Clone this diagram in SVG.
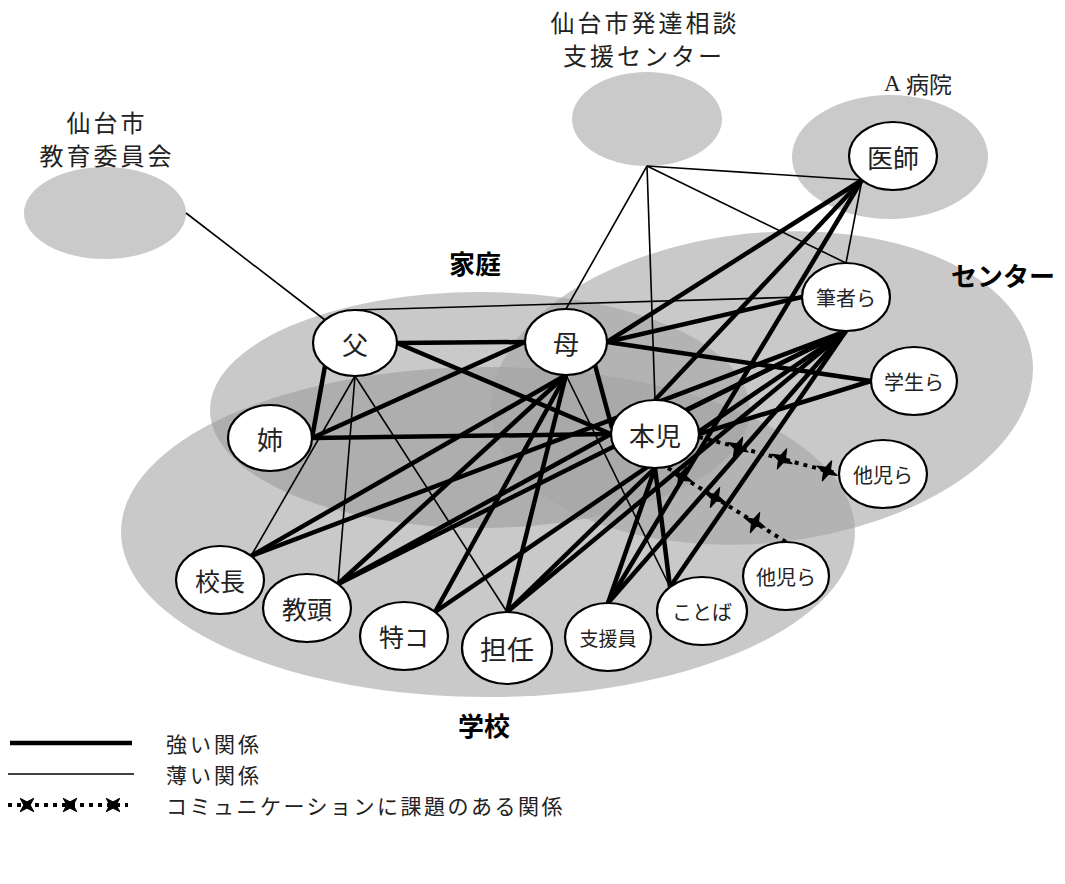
<svg xmlns="http://www.w3.org/2000/svg" width="1065" height="884" viewBox="0 0 1065 884">
  <style>
    .jp { font-family: "Noto Sans CJK JP", "Noto Sans", sans-serif; fill: #222; }
    .wide { letter-spacing: 3px; }
    .bold { font-family: "Noto Sans CJK JP", "Noto Sans", sans-serif; font-weight: 700; fill: #000; }
    .org { fill: #cacaca; }
    .home, .school { fill: #939393; fill-opacity: 0.5; }
    .center { fill: #a5a5a5; fill-opacity: 0.6; }
    .node ellipse { fill: #fff; stroke: #000; stroke-width: 2.2; }
    .thick { stroke: #000; stroke-width: 4.5; fill: none; }
    .thin { stroke: #000; stroke-width: 1.6; fill: none; }
    .dot { stroke: #000; stroke-width: 4; stroke-dasharray: 4 5; fill: none; }
  </style>
  <defs>
    <!-- four-pointed cross used on the problem links -->
    <path id="star" d="M0,-11 L2.6,-2.6 L11,0 L2.6,2.6 L0,11 L-2.6,2.6 L-11,0 L-2.6,-2.6 Z" fill="#000" stroke="#000" stroke-width="1.2" stroke-linejoin="round"/>
  </defs>
  <rect width="1065" height="884" fill="#fff"/>

  <!-- outside organisations -->
  <g id="kyoiku">
    <ellipse class="org" cx="105" cy="213" rx="81" ry="46"/>
    <text class="jp wide" x="107" y="121" font-size="24" text-anchor="middle" dominant-baseline="central">仙台市</text>
    <text class="jp wide" x="107" y="154" font-size="24" text-anchor="middle" dominant-baseline="central">教育委員会</text>
  </g>
  <g id="hattatsu">
    <ellipse class="org" cx="647" cy="119" rx="75" ry="47"/>
    <text class="jp wide" x="645" y="21" font-size="24" text-anchor="middle" dominant-baseline="central">仙台市発達相談</text>
    <text class="jp wide" x="644" y="54" font-size="24" text-anchor="middle" dominant-baseline="central">支援センター</text>
  </g>
  <g id="byoin">
    <ellipse class="org" cx="890" cy="157" rx="98" ry="62"/>
    <text class="jp" x="918" y="83" font-size="23" text-anchor="middle" dominant-baseline="central"><tspan font-family="Liberation Serif, serif">A</tspan> 病院</text>
  </g>

  <!-- group areas -->
  <g id="areas">
    <ellipse class="school" cx="488" cy="532" rx="367" ry="165"/>
    <ellipse class="home" cx="480" cy="410" rx="270" ry="118"/>
    <ellipse class="center" cx="762" cy="388" rx="272" ry="155" transform="rotate(-6 762 388)"/>
    <text class="bold" x="475" y="262" font-size="26" text-anchor="middle" dominant-baseline="central">家庭</text>
    <text class="bold" x="1003" y="274" font-size="26" text-anchor="middle" dominant-baseline="central">センター</text>
    <text class="bold" x="484" y="724" font-size="26" text-anchor="middle" dominant-baseline="central">学校</text>
  </g>

  <!-- connectors -->
  <g id="connectors">
    <path class="thin" d="M186,213 L325,320"/>
    <path class="thin" d="M647,166 L566,309"/>
    <path class="thin" d="M647,166 L655,400"/>
    <path class="thin" d="M647,166 L862,180"/>
    <path class="thin" d="M647,166 L846,263"/>
    <path class="thin" d="M862,180 L846,263"/>
    <path class="thin" d="M355,310 L802,297"/>
    <path class="thin" d="M355,376 L251,556"/>
    <path class="thin" d="M355,376 L338,584"/>
    <path class="thin" d="M355,376 L507,612"/>
    <path class="thin" d="M566,375 L670,587"/>

    <path class="thick" d="M397,343 L525,342"/>
    <path class="thick" d="M397,343 L611,434"/>
    <path class="thick" d="M325,366 L312,438"/>
    <path class="thick" d="M312,438 L611,434"/>
    <path class="thick" d="M312,438 L525,342"/>
    <path class="thick" d="M595,365 L612,428"/>
    <path class="thick" d="M607,342 L802,297"/>
    <path class="thick" d="M607,342 L862,180"/>
    <path class="thick" d="M607,342 L871,381"/>
    <path class="thick" d="M566,375 L251,556"/>
    <path class="thick" d="M566,375 L338,584"/>
    <path class="thick" d="M566,375 L435,612"/>
    <path class="thick" d="M566,375 L507,612"/>
    <path class="thick" d="M862,180 L655,400"/>
    <path class="thick" d="M862,180 L608,603"/>
    <path class="thick" d="M846,331 L251,556"/>
    <path class="thick" d="M846,331 L338,584"/>
    <path class="thick" d="M846,331 L435,612"/>
    <path class="thick" d="M846,331 L507,612"/>
    <path class="thick" d="M846,331 L608,603"/>
    <path class="thick" d="M846,331 L670,587"/>
    <path class="thick" d="M846,331 L686,410"/>
    <path class="thick" d="M699,434 L871,381"/>
    <path class="thick" d="M611,434 L338,584"/>
    <path class="thick" d="M655,468 L507,612"/>
    <path class="thick" d="M655,468 L608,603"/>
    <path class="thick" d="M655,468 L670,587"/>

    <path class="dot" d="M699,437 L839,474"/>
    <use href="#star" transform="translate(738,447.3) rotate(25)"/>
    <use href="#star" transform="translate(782,458.9) rotate(25)"/>
    <use href="#star" transform="translate(827,470.8) rotate(25)"/>
    <path class="dot" d="M668,468 L786,542"/>
    <use href="#star" transform="translate(682,476.8) rotate(25)"/>
    <use href="#star" transform="translate(715,497.5) rotate(25)"/>
    <use href="#star" transform="translate(755,522.6) rotate(25)"/>
  </g>

  <!-- people -->
  <g id="chichi" class="node"><ellipse cx="355" cy="343" rx="42" ry="33"/><text class="jp" x="355" y="343" font-size="26" text-anchor="middle" dominant-baseline="central">父</text></g>
  <g id="haha" class="node"><ellipse cx="566" cy="342" rx="41" ry="33"/><text class="jp" x="566" y="342" font-size="26" text-anchor="middle" dominant-baseline="central">母</text></g>
  <g id="ane" class="node"><ellipse cx="270" cy="438" rx="42" ry="33"/><text class="jp" x="270" y="438" font-size="26" text-anchor="middle" dominant-baseline="central">姉</text></g>
  <g id="honji" class="node"><ellipse cx="655" cy="434" rx="44" ry="34"/><text class="jp" x="655" y="434" font-size="26" text-anchor="middle" dominant-baseline="central">本児</text></g>
  <g id="ishi" class="node"><ellipse cx="893" cy="156" rx="44" ry="34"/><text class="jp" x="893" y="156" font-size="26" text-anchor="middle" dominant-baseline="central">医師</text></g>
  <g id="hissha" class="node"><ellipse cx="846" cy="297" rx="44" ry="34"/><text class="jp" x="846" y="297" font-size="20" text-anchor="middle" dominant-baseline="central">筆者ら</text></g>
  <g id="gakusei" class="node"><ellipse cx="914" cy="381" rx="43" ry="34"/><text class="jp" x="914" y="381" font-size="20" text-anchor="middle" dominant-baseline="central">学生ら</text></g>
  <g id="taji1" class="node"><ellipse cx="883" cy="474" rx="44" ry="34"/><text class="jp" x="883" y="474" font-size="20" text-anchor="middle" dominant-baseline="central">他児ら</text></g>
  <g id="taji2" class="node"><ellipse cx="786" cy="576" rx="43" ry="34"/><text class="jp" x="786" y="576" font-size="20" text-anchor="middle" dominant-baseline="central">他児ら</text></g>
  <g id="kocho" class="node"><ellipse cx="220" cy="580" rx="44" ry="34"/><text class="jp" x="220" y="580" font-size="25" text-anchor="middle" dominant-baseline="central">校長</text></g>
  <g id="kyoto" class="node"><ellipse cx="307" cy="608" rx="44" ry="34"/><text class="jp" x="307" y="608" font-size="25" text-anchor="middle" dominant-baseline="central">教頭</text></g>
  <g id="tokuko" class="node"><ellipse cx="404" cy="636" rx="44" ry="34"/><text class="jp" x="404" y="636" font-size="25" text-anchor="middle" dominant-baseline="central">特コ</text></g>
  <g id="tannin" class="node"><ellipse cx="507" cy="648" rx="45" ry="36"/><text class="jp" x="507" y="648" font-size="27" text-anchor="middle" dominant-baseline="central">担任</text></g>
  <g id="shienin" class="node"><ellipse cx="608" cy="637" rx="43" ry="34"/><text class="jp" x="608" y="637" font-size="19" text-anchor="middle" dominant-baseline="central">支援員</text></g>
  <g id="kotoba" class="node"><ellipse cx="702" cy="611" rx="45" ry="34"/><text class="jp" x="702" y="611" font-size="20" text-anchor="middle" dominant-baseline="central">ことば</text></g>

  <!-- legend -->
  <g id="legend">
    <path class="thick" d="M10,743 L132,743" stroke-width="5"/>
    <text class="jp" x="166" y="743" font-size="21" letter-spacing="3" dominant-baseline="central">強い関係</text>
    <path class="thin" d="M8,774 L134,774" stroke-width="2"/>
    <text class="jp" x="166" y="774" font-size="21" letter-spacing="3" dominant-baseline="central">薄い関係</text>
    <path class="dot" d="M8,805 L128,805"/>
    <use href="#star" transform="translate(27,805) rotate(45) scale(0.85)"/>
    <use href="#star" transform="translate(70,805) rotate(45) scale(0.85)"/>
    <use href="#star" transform="translate(113,805) rotate(45) scale(0.85)"/>
    <text class="jp" x="166" y="805" font-size="21" letter-spacing="2.5" dominant-baseline="central">コミュニケーションに課題のある関係</text>
  </g>
</svg>
